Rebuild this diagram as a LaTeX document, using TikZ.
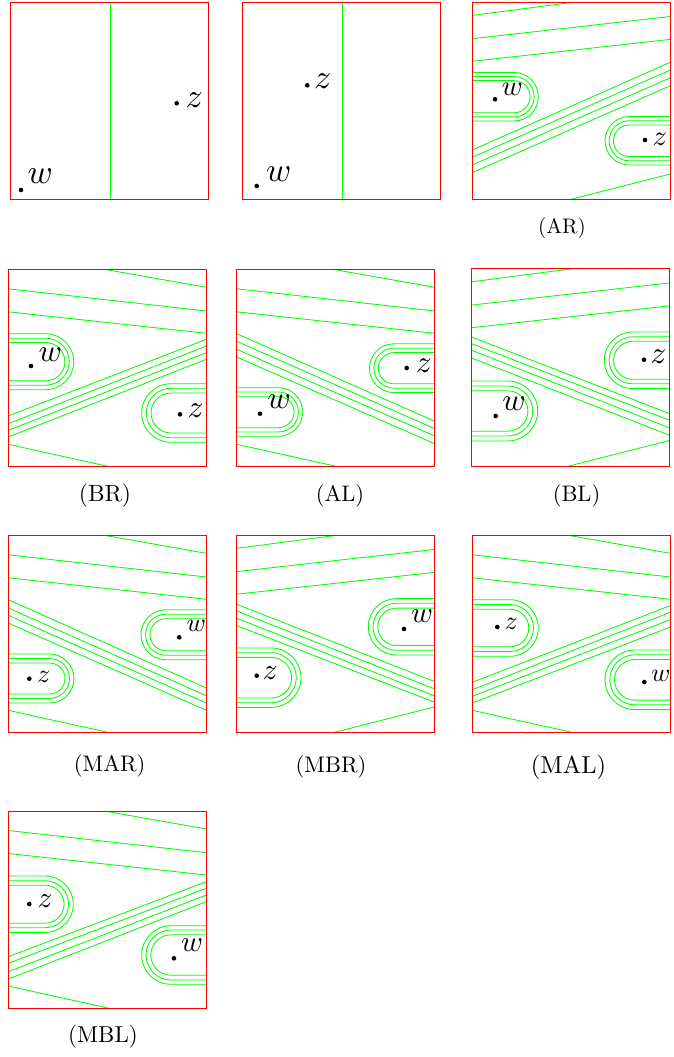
\documentclass[tikz,border=0pt]{standalone}
\usepackage{graphicx}
\newcommand\pw{198}
\newcommand\ph{197.5}
% math letter enlarged from its 10pt design size
\newcommand\letr[2]{\scalebox{#1}{$#2$}}
% caption text enlarged from its 10pt design size
\newcommand\captxt[2]{\scalebox{#1}{#2}}
% upper group of three lines and the lower corner line, rising to the right
\newcommand\risetop{%
  \draw[gline] (0,13.1) -- (100.8,0);
  \draw[gline] (0,36.4) -- (\pw,14.2);
  \draw[gline] (0,59) -- (\pw,37.1);
  \draw[gline] (96.6,\ph) -- (\pw,171.7);}
% the same group, falling to the right
\newcommand\falltop{%
  \draw[gline] (96,0) -- (\pw,18);
  \draw[gline] (0,19.5) -- (\pw,41.7);
  \draw[gline] (0,42.5) -- (\pw,64);
  \draw[gline] (0,175) -- (101.7,\ph);}
% three nested hairpins around (#1,#2), open towards the left edge
\newcommand\leftloops[5]{\foreach \rr in {#3,#4,#5}{%
  \draw[gline] (0,{#2-\rr}) -- (#1,{#2-\rr}) arc[start angle=-90,end angle=90,radius=\rr] -- (0,{#2+\rr});}}
% three nested hairpins around (#1,#2), open towards the right edge
\newcommand\rightloops[5]{\foreach \rr in {#3,#4,#5}{%
  \draw[gline] (\pw,{#2-\rr}) -- (#1,{#2-\rr}) arc[start angle=-90,end angle=-270,radius=\rr] -- (\pw,{#2+\rr});}}
% band of straight lines from the left edge to the right edge
\newcommand\bands[1]{\foreach \a/\b in {#1}{\draw[gline] (0,\a) -- (\pw,\b);}}
\begin{document}
\begin{tikzpicture}[x=1pt,y=-1pt,
  panelframe/.style={draw=red,line width=0.9pt},
  gline/.style={draw=green,line width=0.85pt},
  dotpt/.style={circle,fill=black,inner sep=0pt,minimum size=4.6pt},
  lab/.style={inner sep=0pt,anchor=base west},
  caption/.style={inner sep=0pt,anchor=center}]
\useasboundingbox (0,0) rectangle (674,1057);

% first panel
\begin{scope}[shift={(10,2.3)}]
  \draw[gline] (100.7,0) -- (100.7,\ph);
  \node[dotpt] (Az) at (166.7,101) {};
  \node[lab] (Azl) at (175.5,104.7) {\letr{3.4}{z}};
  \node[dotpt] (Aw) at (11,187.7) {};
  \node[lab] (Awl) at (17.5,181) {\letr{3.4}{w}};
  \draw[panelframe] (0,0) rectangle (\pw,\ph);
\end{scope}

% second panel
\begin{scope}[shift={(242,2.3)}]
  \draw[gline] (100.3,0) -- (100.3,\ph);
  \node[dotpt] (Bz) at (65.3,83) {};
  \node[lab] (Bzl) at (72,86) {\letr{3.4}{z}};
  \node[dotpt] (Bw) at (14.7,183.7) {};
  \node[lab] (Bwl) at (24,179.4) {\letr{3.4}{w}};
  \draw[panelframe] (0,0) rectangle (\pw,\ph);
\end{scope}

% AR
\begin{scope}[shift={(472.3,2.3)}]
  \risetop
  \bands{147.7/60,155/67.7,162.7/75.4,170.4/83.4}
  \leftloops{41.7}{94.4}{16.1}{20.2}{24.3}
  \rightloops{156.9}{138.5}{15.8}{20}{24.2}
  \node[dotpt] (ARw) at (22.7,97) {};
  \node[lab] (ARwl) at (29,92.7) {\letr{2.85}{w}};
  \node[dotpt] (ARz) at (172.7,137.7) {};
  \node[lab] (ARzl) at (180,142.7) {\letr{2.85}{z}};
  \draw[panelframe] (0,0) rectangle (\pw,\ph);
\end{scope}
\node[caption] (capAR) at (562,228) {\captxt{2.1}{(AR)}};

% BR
\begin{scope}[shift={(8.3,269.3)}]
  \falltop
  \bands{146.7/70,154.4/76.7,161/83.4,167.7/90}
  \leftloops{37.4}{92.4}{19.2}{23.5}{28}
  \rightloops{162.7}{143.7}{20}{24.7}{29.3}
  \node[dotpt] (BRw) at (22.7,96.7) {};
  \node[lab] (BRwl) at (30,92) {\letr{3.15}{w}};
  \node[dotpt] (BRz) at (171.7,145) {};
  \node[lab] (BRzl) at (179,147.7) {\letr{3.15}{z}};
  \draw[panelframe] (0,0) rectangle (\pw,\ph);
\end{scope}
\node[caption] (capBR) at (105,495.5) {\captxt{2.35}{(BR)}};

% AL
\begin{scope}[shift={(236.7,269.3)}]
  \falltop
  \bands{64.4/152,72/159.4,80/166.7,87.7/174.4}
  \rightloops{157.2}{98.9}{15.6}{20}{24.4}
  \leftloops{41.7}{142.7}{15.7}{20}{24.3}
  \node[dotpt] (ALz) at (170,98.7) {};
  \node[lab] (ALzl) at (179,102.7) {\letr{3.15}{z}};
  \node[dotpt] (ALw) at (23.3,144.4) {};
  \node[lab] (ALwl) at (30.5,139.4) {\letr{3.15}{w}};
  \draw[panelframe] (0,0) rectangle (\pw,\ph);
\end{scope}
\node[caption] (capAL) at (340,495.5) {\captxt{2.25}{(AL)}};

% BL
\begin{scope}[shift={(471.7,268.7)}]
  \risetop
  \bands{68.3/145,75/151.6,81.6/159.3,89.3/166.6}
  \rightloops{160.9}{91.6}{19}{23.5}{28.3}
  \leftloops{36}{142.3}{20.2}{25}{30}
  \node[dotpt] (BLz) at (172.3,91) {};
  \node[lab] (BLzl) at (178.5,95) {\letr{3.15}{z}};
  \node[dotpt] (BLw) at (24,147.3) {};
  \node[lab] (BLwl) at (30.5,141.6) {\letr{3.15}{w}};
  \draw[panelframe] (0,0) rectangle (\pw,\ph);
\end{scope}
\node[caption] (capBL) at (576.5,495.5) {\captxt{2.25}{(BL)}};

% MAR
\begin{scope}[shift={(8.3,535.3)}]
  \falltop
  \bands{64.4/152.7,72.7/160.4,80/167.7,87.7/175}
  \rightloops{157.7}{99.4}{16}{20.5}{25}
  \leftloops{41.2}{143.2}{15.5}{20}{24.5}
  \node[dotpt] (MARw) at (171,102) {};
  \node[lab] (MARwl) at (178,96) {\letr{2.6}{w}};
  \node[dotpt] (MARz) at (21,143.4) {};
  \node[lab] (MARzl) at (28.5,147) {\letr{2.6}{z}};
  \draw[panelframe] (0,0) rectangle (\pw,\ph);
\end{scope}
\node[caption] (capMAR) at (109.7,765.5) {\captxt{2.25}{(MAR)}};

% MBR
\begin{scope}[shift={(236,535.3)}]
  \risetop
  \bands{68.7/146,75.4/153.4,82.7/160.4,90/166.7}
  \rightloops{160.5}{91.5}{18.7}{23.5}{28.2}
  \leftloops{35.3}{142.4}{20.3}{25}{29.7}
  \node[dotpt] (MBRw) at (168,93.7) {};
  \node[lab] (MBRwl) at (175,87) {\letr{2.95}{w}};
  \node[dotpt] (MBRz) at (20.7,140.4) {};
  \node[lab] (MBRzl) at (26.5,144.4) {\letr{2.95}{z}};
  \draw[panelframe] (0,0) rectangle (\pw,\ph);
\end{scope}
\node[caption] (capMBR) at (331,767) {\captxt{2.25}{(MBR)}};

% MAL
\begin{scope}[shift={(472.3,535.3)}]
  \falltop
  \bands{147/70.3,154.4/77,161/84.3,167.7/91.7}
  \leftloops{37.7}{92.7}{18.8}{23.5}{28.3}
  \rightloops{162.5}{144.5}{20.3}{25}{29.8}
  \node[dotpt] (MALz) at (25,91.7) {};
  \node[lab] (MALzl) at (32,94.4) {\letr{2.6}{z}};
  \node[dotpt] (MALw) at (172,146.7) {};
  \node[lab] (MALwl) at (178.5,146) {\letr{2.6}{w}};
  \draw[panelframe] (0,0) rectangle (\pw,\ph);
\end{scope}
\node[caption] (capMAL) at (568.5,767) {\captxt{2.45}{(MAL)}};

% MBL
\begin{scope}[shift={(8.3,811)}]
  \falltop
  \bands{145.7/70.7,152.3/77.3,160.7/84,168/90.7}
  \leftloops{36.8}{93.2}{19}{23.5}{28.2}
  \rightloops{162.7}{144}{20.2}{25}{29.3}
  \node[dotpt] (MBLz) at (21,93) {};
  \node[lab] (MBLzl) at (29,96.3) {\letr{2.95}{z}};
  \node[dotpt] (MBLw) at (165.7,147.3) {};
  \node[lab] (MBLwl) at (172.5,140.7) {\letr{2.95}{w}};
  \draw[panelframe] (0,0) rectangle (\pw,\ph);
\end{scope}
\node[caption] (capMBL) at (103,1037) {\captxt{2.3}{(MBL)}};
\end{tikzpicture}
\end{document}
